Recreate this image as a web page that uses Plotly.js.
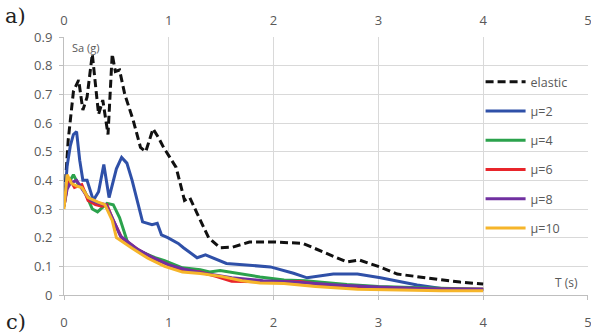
<!DOCTYPE html>
<html>
<head>
<meta charset="utf-8">
<script src="https://cdn.plot.ly/plotly-3.0.1.min.js"></script>
<style>html,body{margin:0;padding:0;background:#fff;}#chart{width:591px;height:334px;}</style>
</head>
<body>
<div id="chart"></div>
<script>
// ---- data ----
var elasticT = [0, 0.04, 0.09, 0.14, 0.18, 0.22, 0.27, 0.33, 0.37, 0.42, 0.46, 0.49, 0.53, 0.58, 0.66, 0.73, 0.78, 0.85, 0.9, 0.95, 1.01, 1.07, 1.15, 1.2, 1.27, 1.38, 1.49, 1.61, 1.77, 2.0, 2.28, 2.54, 2.7, 2.82, 3.02, 3.18, 3.5, 3.78, 4.0];
var elasticSa = [0.31, 0.54, 0.71, 0.75, 0.645, 0.69, 0.84, 0.63, 0.68, 0.56, 0.84, 0.78, 0.785, 0.70, 0.61, 0.515, 0.50, 0.58, 0.55, 0.515, 0.48, 0.445, 0.33, 0.34, 0.285, 0.20, 0.165, 0.167, 0.185, 0.185, 0.18, 0.14, 0.115, 0.122, 0.097, 0.073, 0.058, 0.045, 0.038];

var mu2T = [0, 0.03, 0.06, 0.09, 0.12, 0.15, 0.18, 0.22, 0.28, 0.33, 0.38, 0.43, 0.5, 0.55, 0.6, 0.65, 0.75, 0.84, 0.89, 0.93, 0.99, 1.09, 1.14, 1.27, 1.35, 1.55, 1.97, 2.19, 2.32, 2.57, 2.8, 3.02, 3.37, 3.65, 4.0];
var mu2Sa = [0.31, 0.45, 0.52, 0.56, 0.57, 0.47, 0.40, 0.40, 0.33, 0.36, 0.455, 0.34, 0.44, 0.48, 0.46, 0.40, 0.255, 0.245, 0.25, 0.21, 0.20, 0.18, 0.165, 0.13, 0.14, 0.11, 0.098, 0.076, 0.06, 0.073, 0.073, 0.06, 0.035, 0.02, 0.02];

var mu4T = [0, 0.03, 0.06, 0.09, 0.13, 0.2, 0.27, 0.32, 0.41, 0.47, 0.53, 0.61, 0.74, 0.87, 0.96, 1.13, 1.3, 1.39, 1.49, 1.7, 1.87, 2.1, 2.3, 2.7, 3.0, 3.4, 3.7, 4.0];
var mu4Sa = [0.31, 0.38, 0.40, 0.42, 0.39, 0.36, 0.30, 0.29, 0.32, 0.315, 0.27, 0.18, 0.15, 0.13, 0.12, 0.095, 0.088, 0.08, 0.085, 0.072, 0.063, 0.052, 0.05, 0.037, 0.03, 0.025, 0.022, 0.02];

var mu6T = [0, 0.03, 0.06, 0.1, 0.17, 0.23, 0.3, 0.36, 0.41, 0.47, 0.55, 0.71, 0.87, 1.0, 1.13, 1.3, 1.45, 1.6, 1.9, 2.25, 2.57, 3.0, 3.5, 4.0];
var mu6Sa = [0.31, 0.38, 0.40, 0.375, 0.385, 0.33, 0.315, 0.31, 0.315, 0.26, 0.20, 0.157, 0.125, 0.105, 0.088, 0.08, 0.065, 0.048, 0.046, 0.047, 0.03, 0.025, 0.02, 0.02];

var mu8T = [0, 0.03, 0.06, 0.12, 0.2, 0.26, 0.33, 0.4, 0.46, 0.54, 0.7, 0.85, 1.0, 1.15, 1.35, 1.6, 1.9, 2.2, 2.6, 3.0, 3.5, 4.0];
var mu8Sa = [0.31, 0.37, 0.39, 0.40, 0.355, 0.33, 0.32, 0.315, 0.27, 0.205, 0.16, 0.13, 0.105, 0.09, 0.075, 0.06, 0.05, 0.045, 0.035, 0.028, 0.022, 0.02];

var mu10T = [0, 0.03, 0.07, 0.12, 0.17, 0.23, 0.32, 0.39, 0.46, 0.5, 0.65, 0.8, 0.96, 1.13, 1.3, 1.5, 1.7, 1.87, 2.1, 2.4, 2.8, 3.2, 3.6, 4.0];
var mu10Sa = [0.30, 0.42, 0.39, 0.38, 0.375, 0.34, 0.325, 0.315, 0.26, 0.20, 0.163, 0.128, 0.10, 0.08, 0.075, 0.065, 0.05, 0.042, 0.04, 0.03, 0.02, 0.017, 0.015, 0.015];

var seriesNames = ['elastic', 'μ=2', 'μ=4', 'μ=6', 'μ=8', 'μ=10'];
var xTicks = [0, 1, 2, 3, 4, 5];
var yTicks = [0, 0.1, 0.2, 0.3, 0.4, 0.5, 0.6, 0.7, 0.8, 0.9];
var yTickText = ['0', '0.1', '0.2', '0.3', '0.4', '0.5', '0.6', '0.7', '0.8', '0.9'];

// ---- styling ----
var colors = ['#111111', '#2f50a8', '#2ba24c', '#e8252b', '#7030a0', '#f6b52a'];
var xs = [elasticT, mu2T, mu4T, mu6T, mu8T, mu10T];
var ys = [elasticSa, mu2Sa, mu4Sa, mu6Sa, mu8Sa, mu10Sa];

var traces = [];
for (var i = 0; i < seriesNames.length; i++) {
  traces.push({
    type: 'scatter', mode: 'lines',
    x: xs[i], y: ys[i], name: seriesNames[i],
    legendgroup: 'g' + i,
    line: {color: colors[i], width: 3, dash: i === 0 ? '8px,4px' : 'solid'},
    hoverinfo: 'skip'
  });
}
// invisible carrier so that the top (secondary) x axis is drawn
traces.push({
  type: 'scatter', mode: 'lines', x: xTicks, y: xTicks.map(function () { return null; }),
  xaxis: 'x2', yaxis: 'y', showlegend: false, hoverinfo: 'skip', line: {width: 0}
});

var tickFont = {family: 'Open Sans, Liberation Sans, sans-serif', size: 13, color: '#595959'};
var gridCol = '#d9d9d9';
var xRange = [0, 5.0005];

var layout = {
  width: 591, height: 334,
  margin: {l: 64, r: 3, t: 37, b: 39},
  paper_bgcolor: '#ffffff', plot_bgcolor: '#ffffff',
  showlegend: true,
  legend: {
    x: 0.795, xanchor: 'left', y: 0.883, yanchor: 'top',
    bgcolor: 'rgba(0,0,0,0)', borderwidth: 0,
    font: {family: 'Open Sans, Liberation Sans, sans-serif', size: 12.5, color: '#595959'},
    tracegroupgap: 10, itemwidth: 40
  },
  xaxis: {
    range: xRange, tickvals: xTicks, ticktext: xTicks.map(String),
    showgrid: true, gridcolor: gridCol, gridwidth: 1,
    zeroline: false, showline: true, linecolor: '#bfbfbf', linewidth: 1,
    ticks: 'outside', ticklen: 4, tickcolor: '#bfbfbf',
    tickfont: tickFont, ticklabelstandoff: 11, ticklabeloverflow: 'allow', fixedrange: true
  },
  xaxis2: {
    range: xRange, tickvals: xTicks, ticktext: xTicks.map(String),
    overlaying: 'x', side: 'top', anchor: 'y',
    showgrid: false, zeroline: false, showline: false,
    ticks: '', tickfont: tickFont, ticklabelstandoff: 8, ticklabeloverflow: 'allow', fixedrange: true
  },
  yaxis: {
    range: [0, 0.9], tickvals: yTicks, ticktext: yTickText,
    showgrid: true, gridcolor: gridCol, gridwidth: 1,
    zeroline: false, showline: true, linecolor: '#bfbfbf', linewidth: 1,
    ticks: 'outside', ticklen: 4, tickcolor: '#bfbfbf',
    tickfont: tickFont, ticklabelstandoff: 4, fixedrange: true
  },
  annotations: [
    {xref: 'x', yref: 'y', x: 0.06, y: 0.865, text: 'Sa (g)', showarrow: false, xanchor: 'left', yanchor: 'middle',
     font: {family: 'Open Sans, Liberation Sans, sans-serif', size: 11, color: '#595959'}},
    {xref: 'x', yref: 'y', x: 4.8, y: 0.042, text: 'T (s)', showarrow: false, xanchor: 'center', yanchor: 'middle',
     font: {family: 'Open Sans, Liberation Sans, sans-serif', size: 12, color: '#595959'}},
    {xref: 'paper', yref: 'paper', x: -0.092, y: 1.08, text: 'a)', showarrow: false, xanchor: 'center', yanchor: 'middle',
     font: {family: 'DejaVu Serif, Liberation Serif, serif', size: 21, color: '#222222'}},
    {xref: 'paper', yref: 'paper', x: -0.092, y: -0.105, text: 'c)', showarrow: false, xanchor: 'center', yanchor: 'middle',
     font: {family: 'DejaVu Serif, Liberation Serif, serif', size: 21, color: '#222222'}}
  ]
};

Plotly.newPlot('chart', traces, layout, {displayModeBar: false, staticPlot: true});
</script>
</body>
</html>
